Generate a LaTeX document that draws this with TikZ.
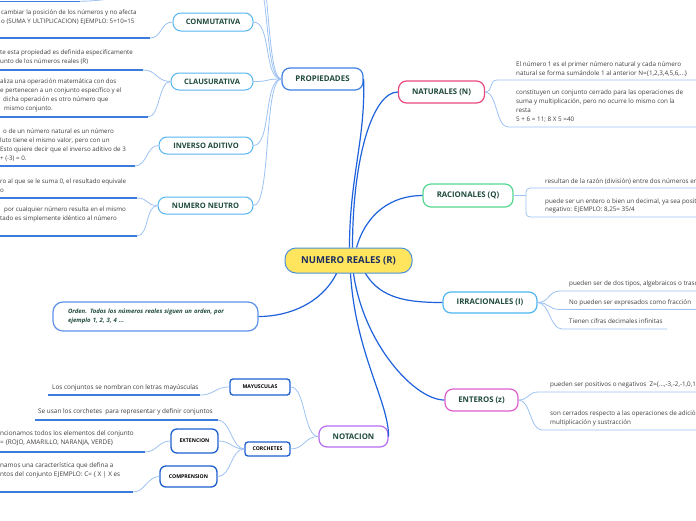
\documentclass[tikz,border=0pt]{standalone}
\usepackage{fontspec}
\setmainfont{Open Sans}
\definecolor{mblue}{HTML}{1E62DB}
\definecolor{lblue}{HTML}{9DC1F3}
\definecolor{ublue}{HTML}{3C7CE0}
\definecolor{lab}{HTML}{1F4A3C}
\definecolor{body}{HTML}{3D3D3D}
\definecolor{ceny}{HTML}{FFE55E}
\definecolor{cenb}{HTML}{4A90D9}
\definecolor{cent}{HTML}{1B2B5E}
\definecolor{propc}{HTML}{3D7FE3}
\definecolor{natc}{HTML}{E8497F}
\definecolor{racc}{HTML}{55D690}
\definecolor{irrc}{HTML}{4DB5F0}
\definecolor{entc}{HTML}{DE5ECF}
\definecolor{notc}{HTML}{B86AF0}
\definecolor{subc}{HTML}{55B4F2}
\definecolor{ordc}{HTML}{5E92E8}
\definecolor{dblue}{HTML}{1E5FCF}
\newcommand{\fstrut}{\rule{0pt}{5pt}}
\begin{document}
\begin{tikzpicture}[x=1pt,y=-1pt,
  box/.style={draw, rounded corners=8pt, fill=white, line width=1pt, inner sep=0pt,
    font=\fontsize{7.5}{8}\selectfont\bfseries, text=lab},
  sbox/.style={draw=dblue, rounded corners=3pt, fill=white, line width=1.3pt, inner sep=0pt,
    font=\fontsize{5.2}{6}\selectfont\bfseries, text=black},
  txt/.style={inner sep=0pt, align=left, font=\fontsize{6.2}{9}\selectfont, text=body, anchor=north west},
  rtxt/.style={txt, font=\fontsize{6.3}{9}\selectfont},
  mainc/.style={draw=mblue, line width=1.2pt},
  lightc/.style={draw=lblue, line width=0.8pt},
  ulc/.style={draw=ublue, line width=1.3pt},
]
\useasboundingbox (0,0) rectangle (696,520);
\clip (0,0) rectangle (696,520);

% ---------- nodes ----------
\node[box, draw=cenb, fill=ceny, text=cent, minimum width=127pt, minimum height=25pt,
  rounded corners=11pt, font=\fontsize{9.5}{10}\selectfont\bfseries] (cen) at (348.5,260.5) {NUMERO REALES (R)};
\node[box, draw=propc, line width=1.2pt, minimum width=81pt, minimum height=22pt, font=\fontsize{7.9}{8}\selectfont\bfseries] (prop) at (322.5,79) {PROPIEDADES};
\node[box, draw=natc, line width=1.2pt, minimum width=86pt, minimum height=22pt, font=\fontsize{7.8}{8}\selectfont\bfseries] (nat) at (441.5,92) {NATURALES (N)};
\node[box, draw=racc, line width=1.2pt, minimum width=90pt, minimum height=23pt, font=\fontsize{7.8}{8}\selectfont\bfseries] (rac) at (468,195.5) {RACIONALES (Q)};
\node[box, draw=irrc, line width=1.2pt, minimum width=94pt, minimum height=21pt, font=\fontsize{7.8}{8}\selectfont\bfseries] (irr) at (490,302.5) {IRRACIONALES (I)};
\node[box, draw=entc, line width=1.2pt, minimum width=73pt, minimum height=22pt, font=\fontsize{7.8}{8}\selectfont\bfseries] (ent) at (481.5,400) {ENTEROS (z)};
\node[box, draw=notc, line width=1.2pt, minimum width=69pt, minimum height=21pt, font=\fontsize{7.8}{8}\selectfont\bfseries] (not) at (353.5,436.5) {NOTACION};

\node[box, draw=subc, minimum width=80pt, minimum height=18pt] (con) at (213,22) {CONMUTATIVA};
\node[box, draw=subc, minimum width=82pt, minimum height=17pt] (cla) at (212,81.5) {CLAUSURATIVA};
\node[box, draw=subc, minimum width=94pt, minimum height=17pt] (inv) at (206,145.5) {INVERSO ADITIVO};
\node[box, draw=subc, minimum width=95pt, minimum height=17pt] (neu) at (205.5,205.5) {NUMERO NEUTRO};

\node[box, draw=ordc, line width=1.2pt, rounded corners=10pt, minimum width=205pt, minimum height=29pt,
  inner xsep=15pt, text width=175pt, align=left, font=\fontsize{6}{9}\selectfont\bfseries\itshape]
  (ord) at (155.5,316.5) {Orden. Todos los números reales siguen un orden, por\\ejemplo 1, 2, 3, 4 ...};

\node[sbox, minimum width=60pt, minimum height=16pt] (may) at (260,387) {MAYUSCULAS};
\node[sbox, minimum width=45pt, minimum height=14pt] (cor) at (267.5,449) {CORCHETES};
\node[sbox, rounded corners=6pt, minimum width=47pt, minimum height=24pt] (ext) at (194.5,441) {EXTENCION};
\node[sbox, rounded corners=6pt, minimum width=57pt, minimum height=21pt] (comp) at (188.5,476.5) {COMPRENSION};

% ---------- texts ----------
\node[txt] (tcon) at (1,9.45) {\fstrut cambiar la posición de los números y no afecta\\o (SUMA Y ULTIPLICACION) EJEMPLO: 5+10=15};
\node[txt] (tcla1) at (0,49.45) {\fstrut te esta propiedad es definida especificamente\\unto de los números reales (R)};
\node[txt] (tcla2) at (0,78.45) {\fstrut aliza una operación matemática con dos\\e pertenecen a un conjunto específico y el\\\hspace*{3pt}dicha operación es otro número que\\\hspace*{4pt}mismo conjunto.};
\node[txt] (tinv) at (0,128.45) {\fstrut\hspace*{3pt}o de un número natural es un número\\luto tiene el mismo valor, pero con un\\Esto quiere decir que el inverso aditivo de 3\\+ (-3) = 0.};
\node[txt] (tneu1) at (0,178.45) {\fstrut ro al que se le suma 0, el resultado equivale\\o};
\node[txt] (tneu2) at (0,206.45) {\fstrut\hspace*{4pt}por cualquier número resulta en el mismo\\tado es simplemente idéntico al número};

\node[rtxt] (tnat1) at (516,61.45) {\fstrut El número 1 es el primer número natural y cada número\\natural se forma sumándole 1 al anterior N=\{1,2,3,4,5,6,...\}};
\node[rtxt] (tnat2) at (516,89.45) {\fstrut constituyen un conjunto cerrado para las operaciones de\\suma y multiplicación, pero no ocurre lo mismo con la\\resta\\5 + 6 = 11; 8 X 5 =40};
\node[rtxt] (trac1) at (545,178.45) {\fstrut resultan de la razón (división) entre dos números enteros};
\node[rtxt, font=\fontsize{6.3}{8.5}\selectfont] (trac2) at (545,197.95) {\fstrut puede ser un entero o bien un decimal, ya sea positivo o\\negativo: EJEMPLO: 8,25= 35/4};
\node[rtxt] (tirr1) at (569,280.45) {\fstrut pueden ser de dos tipos, algebraicos o trascendentes};
\node[rtxt] (tirr2) at (569,299.45) {\fstrut No pueden ser expresados como fracción};
\node[rtxt] (tirr3) at (569,318.45) {\fstrut Tienen cifras decimales infinitas};
\node[rtxt] (tent1) at (550,381.45) {\fstrut pueden ser positivos o negativos\enspace Z=\{...,-3,-2,-1,0,1,2,3,...\}};
\node[rtxt] (tent2) at (550,410.45) {\fstrut son cerrados respecto a las operaciones de adición,\\multiplicación y sustracción};

\node[rtxt, font=\fontsize{6.4}{9}\selectfont] (tmay) at (52,384.45) {\fstrut Los conjuntos se nombran con letras mayúsculas};
\node[rtxt, font=\fontsize{6.4}{9}\selectfont] (tcor) at (38,408.45) {\fstrut Se usan los corchetes\enspace para representar y definir conjuntos};
\node[rtxt, font=\fontsize{6.4}{9}\selectfont] (text) at (0,430.45) {\fstrut ncionamos todos los elementos del conjunto\\= \{ROJO, AMARILLO, NARANJA, VERDE\}};
\node[rtxt, font=\fontsize{6.4}{9}\selectfont] (tcomp) at (0,462.45) {\fstrut namos una característica que defina a\\ntos del conjunto EJEMPLO: C= \{ X | X es};

% ---------- coordinates ----------
\coordinate (c1a) at (0,38);   \coordinate (c1b) at (150,38);
\coordinate (c2a) at (0,70);   \coordinate (c2b) at (143,70);
\coordinate (c3a) at (0,117);  \coordinate (c3b) at (148,117);
\coordinate (c4a) at (0,166);  \coordinate (c4b) at (135,166);
\coordinate (c5a) at (0,198);  \coordinate (c5b) at (137,198);
\coordinate (c6a) at (0,236);  \coordinate (c6b) at (137,236);
\coordinate (n1a) at (497,80);  \coordinate (n1b) at (700,80);
\coordinate (n2a) at (508,127); \coordinate (n2b) at (700,127);
\coordinate (rcon) at (526,195.5);
\coordinate (rb1) at (526,188); \coordinate (rb2) at (710,217);
\coordinate (i1a) at (560,291);   \coordinate (i1b) at (700,291);
\coordinate (i2a) at (560,309.5); \coordinate (i2b) at (700,309.5);
\coordinate (i3a) at (562,329);   \coordinate (i3b) at (667,329);
\coordinate (e1a) at (538,392); \coordinate (e1b) at (700,392);
\coordinate (e2a) at (542,430); \coordinate (e2b) at (700,430);
\coordinate (m1a) at (48,395);  \coordinate (m1b) at (200,395);
\coordinate (k1a) at (35,420);  \coordinate (k1b) at (218,420);
\coordinate (x1a) at (0,452);   \coordinate (x1b) at (145,452);
\coordinate (p1a) at (0,492);   \coordinate (p1b) at (133,492);
\coordinate (t1a) at (0,1.2);   \coordinate (t1b) at (80,1.2);
\coordinate (ttop) at (152,-12);
\coordinate (up1) at (253,-25); \coordinate (up2) at (253,-50);

% ---------- main connectors ----------
\draw[mainc] ([xshift=1pt]cen.north) .. controls +(0,-70) and +(2,60) .. (prop.east);
\draw[mainc] ([xshift=4pt]cen.north) .. controls +(0,-90) and +(-25,0) .. (nat.west);
\draw[mainc] ([xshift=8pt]cen.north) .. controls +(10,-35) and +(-30,0) .. (rac.west);
\draw[mainc] ([xshift=17pt]cen.south) .. controls +(15,25) and +(-35,0) .. (irr.west);
\draw[mainc] ([xshift=5pt]cen.south) .. controls +(10,70) and +(-30,0) .. (ent.west);
\draw[mainc] ([xshift=2pt]cen.south) .. controls +(5,80) and +(0,-35) .. (not.east);
\draw[mainc] ([xshift=-12pt]cen.south) .. controls +(-15,30) and +(30,0) .. (ord.east);

% ---------- PROPIEDADES branch ----------
\foreach \c in {con,cla,inv,neu}
  \draw[lightc] (prop.west) .. controls +(-18,0) and +(18,0) .. (\c.east);
\draw[lightc] (prop.west) .. controls +(-18,0) and +(18,0) .. (up1);
\draw[lightc] (prop.west) .. controls +(-16,0) and +(18,0) .. (up2);
\draw[ulc] (t1a) -- (t1b);
\draw[lightc] (t1b) .. controls +(30,0) and +(-10,5) .. (ttop);

\draw[ulc] (c1a) -- (c1b); \draw[lightc] (c1b) .. controls +(12,0) and +(-12,0) .. (con.west);
\draw[ulc] (c2a) -- (c2b); \draw[lightc] (c2b) .. controls +(14,0) and +(-14,0) .. (cla.west);
\draw[ulc] (c3a) -- (c3b); \draw[lightc] (c3b) .. controls +(12,0) and +(-12,0) .. (cla.west);
\draw[ulc] (c4a) -- (c4b); \draw[lightc] (c4b) .. controls +(12,0) and +(-12,0) .. (inv.west);
\draw[ulc] (c5a) -- (c5b); \draw[lightc] (c5b) .. controls +(12,0) and +(-12,0) .. (neu.west);
\draw[ulc] (c6a) -- (c6b); \draw[lightc] (c6b) .. controls +(12,0) and +(-12,0) .. (neu.west);

% ---------- right branches ----------
\draw[lightc] (nat.east) .. controls +(8,0) and +(-8,0) .. (n1a) -- (n1b);
\draw[lightc] (nat.east) .. controls +(12,0) and +(-12,0) .. (n2a) -- (n2b);
\draw[lightc] (rac.east) -- (rcon);
\draw[lightc, rounded corners=4pt] (rb1) rectangle (rb2);
\draw[lightc] (irr.east) .. controls +(12,0) and +(-12,0) .. (i1a) -- (i1b);
\draw[lightc] (irr.east) .. controls +(12,0) and +(-12,0) .. (i2a) -- (i2b);
\draw[lightc] (irr.east) .. controls +(12,0) and +(-12,0) .. (i3a) -- (i3b);
\draw[lightc] (ent.east) .. controls +(10,0) and +(-10,0) .. (e1a) -- (e1b);
\draw[lightc] (ent.east) .. controls +(12,0) and +(-12,0) .. (e2a) -- (e2b);

% ---------- NOTACION branch ----------
\draw[lightc] (may.east) .. controls +(15,0) and +(-15,0) .. (not.west);
\draw[lightc] (cor.east) .. controls +(14,0) and +(-14,0) .. (not.west);
\draw[lightc] (ext.east) .. controls +(12,0) and +(-12,0) .. (cor.west);
\draw[lightc] (comp.east) .. controls +(14,0) and +(-14,0) .. (cor.west);
\draw[ulc] (m1a) -- (m1b); \draw[lightc] (m1b) .. controls +(15,0) and +(-15,0) .. (may.west);
\draw[ulc] (k1a) -- (k1b); \draw[lightc] (k1b) .. controls +(12,0) and +(-12,0) .. (cor.west);
\draw[ulc] (x1a) -- (x1b); \draw[lightc] (x1b) .. controls +(12,0) and +(-12,0) .. (ext.west);
\draw[ulc] (p1a) -- (p1b); \draw[lightc] (p1b) .. controls +(12,0) and +(-12,0) .. (comp.west);
\end{tikzpicture}
\end{document}
